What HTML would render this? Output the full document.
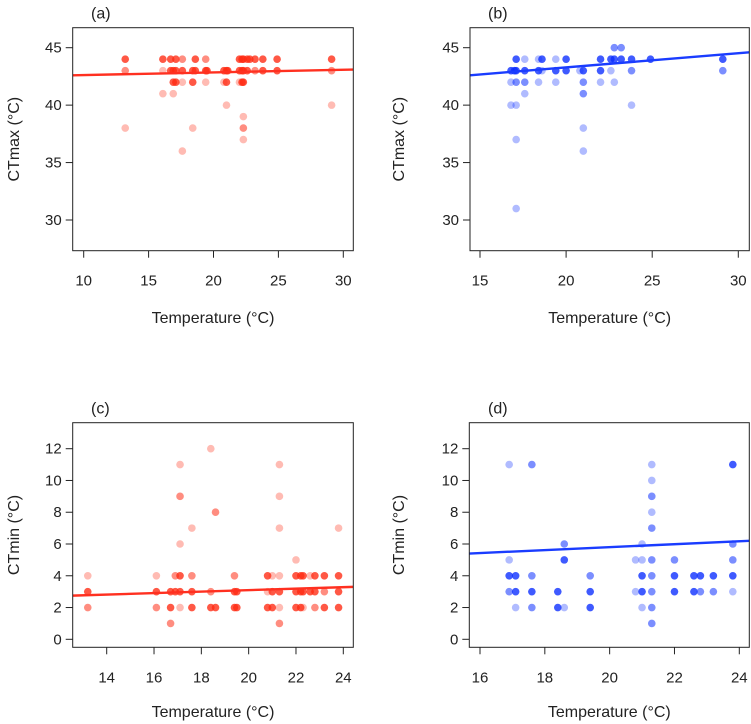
<!DOCTYPE html>
<html><head><meta charset="utf-8"><style>
html,body{margin:0;padding:0;background:#fff;}
svg{display:block;font-family:"Liberation Sans",Arial,sans-serif;}
</style></head><body>
<svg id="fig" width="751" height="724" viewBox="0 0 751 724"></svg>
<script>
// Panel (a): CTmax vs temperature (red)
const aX=[13.2,13.2,13.2,16.1,16.1,16.1,16.7,16.7,16.9,16.9,16.9,17.1,17.1,17.1,17.6,17.6,17.6,17.6,18.4,18.4,18.4,18.6,18.6,19.4,19.4,19.4,19.5,20.8,20.8,21.0,21.0,21.0,21.1,22.0,22.0,22.0,22.2,22.2,22.2,22.3,22.3,22.3,22.3,22.3,22.3,22.6,22.6,22.8,23.2,23.2,23.8,23.8,24.9,24.9,29.1,29.1,29.1];
const aY=[44,43,38,44,43,41,44,43,43,42,41,44,43,42,44,43,42,36,43,42,38,44,43,44,43,42,43,43,42,43,42,40,43,44,43,42,44,43,42,44,43,42,39,38,37,44,43,44,44,43,44,43,44,43,44,43,40];
const aN=[4,2,1,4,1,1,4,4,4,4,1,4,4,4,2,4,1,1,4,4,1,4,4,2,4,1,4,4,1,4,4,1,4,4,4,1,4,4,4,4,4,4,1,2,1,4,4,4,4,2,4,4,4,4,4,2,1];
const aLine=[42.6,43.1];
// Panel (b): CTmax (blue)
const bX=[16.8,16.8,16.8,17.0,17.1,17.1,17.1,17.1,17.1,17.1,17.6,17.6,17.6,17.6,18.4,18.4,18.4,18.6,18.6,19.4,19.4,19.4,20.0,20.0,20.8,21.0,21.0,21.0,21.0,21.0,22.0,22.0,22.0,22.6,22.6,22.8,22.8,22.8,23.2,23.2,23.8,23.8,23.8,24.9,29.1,29.1];
const bY=[43,42,40,43,44,43,42,40,37,31,44,43,42,41,44,43,42,44,43,44,43,42,44,43,43,43,42,41,38,36,44,43,42,44,43,45,44,42,45,44,44,43,40,44,44,43];
const bN=[4,1,1,4,4,4,2,1,1,1,1,4,2,1,1,4,1,4,1,1,4,1,4,4,1,4,2,2,1,1,4,4,1,4,1,2,4,1,2,4,4,2,1,4,4,2];
const bLine=[42.6,44.6];
// Panel (c): CTmin (red)
const cX=[13.2,13.2,13.2,16.1,16.1,16.1,16.7,16.7,16.7,16.9,16.9,17.1,17.1,17.1,17.1,17.1,17.1,17.6,17.6,17.6,17.6,18.4,18.4,18.4,18.6,18.6,19.4,19.4,19.4,19.5,19.5,20.8,20.8,20.8,21.0,21.0,21.0,21.3,21.3,21.3,21.3,21.3,21.3,21.3,22.0,22.0,22.0,22.0,22.2,22.2,22.2,22.3,22.3,22.3,22.6,22.6,22.8,22.8,22.8,23.2,23.2,23.2,23.8,23.8,23.8,23.8];
const cY=[4,3,2,4,3,2,3,2,1,4,3,11,9,6,4,3,2,7,4,3,2,12,3,2,8,2,4,3,2,3,2,4,3,2,4,3,2,11,9,7,4,3,2,1,5,4,3,2,4,3,2,4,3,2,4,3,4,3,2,4,3,2,7,4,3,2];
const cN=[1,4,2,1,4,2,4,4,2,2,4,1,2,1,4,4,1,1,2,4,4,1,2,4,2,4,2,4,4,4,4,4,1,4,1,4,4,1,1,1,1,4,1,2,1,4,4,4,4,4,4,4,4,1,1,4,4,4,2,4,2,4,1,4,4,4];
const cLine=[2.75,3.3];
// Panel (d): CTmin (blue)
const dX=[16.9,16.9,16.9,16.9,17.1,17.1,17.1,17.6,17.6,17.6,17.6,18.4,18.4,18.6,18.6,18.6,19.4,19.4,19.4,20.8,20.8,21.0,21.0,21.0,21.0,21.0,21.3,21.3,21.3,21.3,21.3,21.3,21.3,21.3,21.3,21.3,22.0,22.0,22.0,22.6,22.6,22.8,22.8,23.2,23.2,23.8,23.8,23.8,23.8,23.8];
const dY=[11,5,4,3,4,3,2,11,4,3,2,3,2,6,5,2,4,3,2,5,3,6,5,4,3,2,11,10,9,8,7,5,4,3,2,1,5,4,3,4,3,4,3,4,3,11,6,5,4,3];
const dN=[1,1,4,2,4,4,1,2,2,4,2,4,4,2,4,1,2,4,4,1,1,1,1,4,4,1,1,1,2,1,2,2,2,2,2,2,2,4,4,4,4,4,2,4,2,4,2,2,4,1];
const dLine=[5.4,6.2];

const NS='http://www.w3.org/2000/svg';
const svg=document.getElementById('fig');
function mk(tag,attrs,parent){const e=document.createElementNS(NS,tag);for(const k in attrs)e.setAttribute(k,attrs[k]);(parent||svg).appendChild(e);return e;}

function panel(cfg){
  const g=mk('g',{});
  
  
  const sx=v=>cfg.px0+(v-cfg.xt0)*(cfg.px1-cfg.px0)/(cfg.xt1-cfg.xt0);
  const sy=v=>cfg.py0+(v-cfg.yt0)*(cfg.py1-cfg.py0)/(cfg.yt1-cfg.yt0);
  const B=cfg.box;
  for(let i=0;i<cfg.xs.length;i++){
    const op=1-Math.pow(0.68,cfg.ns[i]);
    const c=mk('circle',{cx:sx(cfg.xs[i]),cy:sy(cfg.ys[i]),r:3.8,fill:cfg.color,'fill-opacity':op},g);
    
    
  }
  const ln=mk('line',{x1:B[0],y1:sy(cfg.line[0]),x2:B[2],y2:sy(cfg.line[1]),stroke:cfg.lineColor,'stroke-width':2.4},g);
  
  
  const r=mk('rect',{x:B[0],y:B[1],width:B[2]-B[0],height:B[3]-B[1],fill:'none',stroke:'#222','stroke-width':1},g);
  
  
  cfg.xticks.forEach(t=>{
    const x=sx(t);
    mk('line',{x1:x,y1:B[3],x2:x,y2:B[3]+7,stroke:'#222','stroke-width':1},g);
    const tx=mk('text',{x:x,y:B[3]+35,'text-anchor':'middle','font-size':15,fill:'#222'},g);
    tx.textContent=t;
    
    
  });
  cfg.yticks.forEach(t=>{
    const y=sy(t);
    mk('line',{x1:B[0],y1:y,x2:B[0]-7,y2:y,stroke:'#222','stroke-width':1},g);
    const tx=mk('text',{x:B[0]-11,y:y+5,'text-anchor':'end','font-size':15,fill:'#222'},g);
    tx.textContent=t;
    
    
  });
  const xt=mk('text',{x:(B[0]+B[2])/2,y:cfg.xtitleY,'text-anchor':'middle','font-size':16,fill:'#222'},g);
  xt.textContent='Temperature (°C)';
  
  
  const yx=cfg.ytitleX, yy=(B[1]+B[3])/2;
  const yt=mk('text',{x:yx,y:yy,'text-anchor':'middle','font-size':16,fill:'#222',transform:`rotate(-90 ${yx} ${yy})`},g);
  yt.textContent=cfg.ytitle;
  
  
  const pl=mk('text',{x:cfg.labelX,y:B[1]-9,'font-size':16,fill:'#222'},g);
  pl.textContent=cfg.label;
  
  
}

panel({name:'panel-a',xs:aX,ys:aY,ns:aN,line:aLine,color:'#ff2a12',lineColor:'#ff3020',
  box:[72.7,27.7,353.3,250.7],xt0:10,xt1:30,px0:83.7,px1:343.3,yt0:45,yt1:30,py0:47.7,py1:220,
  xticks:[10,15,20,25,30],yticks:[30,35,40,45],xtitleY:323,ytitleX:19,ytitle:'CTmax (°C)',label:'(a)',labelX:91});
panel({name:'panel-b',xs:bX,ys:bY,ns:bN,line:bLine,color:'#0a2cff',lineColor:'#1a3cff',
  box:[470,27.7,749.3,250.7],xt0:15,xt1:30,px0:480,px1:738.3,yt0:45,yt1:30,py0:47.7,py1:220,
  xticks:[15,20,25,30],yticks:[30,35,40,45],xtitleY:323,ytitleX:404,ytitle:'CTmax (°C)',label:'(b)',labelX:488});
panel({name:'panel-c',xs:cX,ys:cY,ns:cN,line:cLine,color:'#ff2a12',lineColor:'#ff3020',
  box:[72.7,422.7,353.3,647.3],xt0:14,xt1:24,px0:106.7,px1:343.3,yt0:12,yt1:0,py0:448.7,py1:639.3,
  xticks:[14,16,18,20,22,24],yticks:[0,2,4,6,8,10,12],xtitleY:717,ytitleX:19,ytitle:'CTmin (°C)',label:'(c)',labelX:91});
panel({name:'panel-d',xs:dX,ys:dY,ns:dN,line:dLine,color:'#0a2cff',lineColor:'#1a3cff',
  box:[469.3,422.7,749.3,647.3],xt0:16,xt1:24,px0:480,px1:739.3,yt0:12,yt1:0,py0:448.7,py1:639.3,
  xticks:[16,18,20,22,24],yticks:[0,2,4,6,8,10,12],xtitleY:717,ytitleX:404,ytitle:'CTmin (°C)',label:'(d)',labelX:488});
</script>
</body></html>
